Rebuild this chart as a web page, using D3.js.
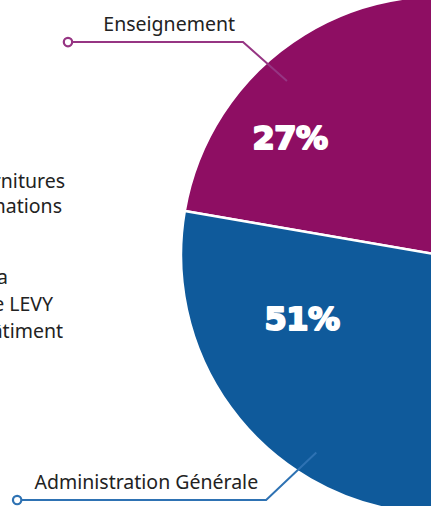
<!DOCTYPE html>
<html><head><meta charset="utf-8">
<script src="https://cdn.jsdelivr.net/npm/d3@7"></script>
<style>html,body{margin:0;padding:0;background:#fff;overflow:hidden}</style>
</head><body>
<svg id="c" width="431" height="506"></svg>
<script>
// Data
const categories = ["Enseignement", "Fournitures et consommations", "Entretien de la salle LEVY et du bâtiment", "Administration Générale"];
const values = [27, 12, 10, 51];
const percentLabels = ["27%", "", "", "51%"];
const colors = ["#8E0E63", "#E3A02A", "#5A9E3C", "#0F5A9B"];
const lineColors = ["#963583", "#c98a1e", "#4b8a30", "#2E72B3"];

// Layout
const W = 431, H = 506;
const cx = 440, cy = 255, R = 259;
const startDeg = -80.2;
const svg = d3.select("#c");

const pie = d3.pie().sort(null).value(d => d)
  .startAngle(startDeg * Math.PI / 180)
  .endAngle(startDeg * Math.PI / 180 + 2 * Math.PI);
const arcs = pie(values);
const arc = d3.arc().innerRadius(0).outerRadius(R);

const g = svg.append("g").attr("transform", `translate(${cx},${cy})`);
g.selectAll("path.slice").data(arcs).join("path")
  .attr("class", "slice")
  .attr("d", arc)
  .attr("fill", (d, i) => colors[i])
  .attr("stroke", "#fff").attr("stroke-width", 2.5).attr("stroke-linejoin", "round");

function polar(d, frac, rf) {
  const a = d.startAngle + (d.endAngle - d.startAngle) * frac;
  return [R * rf * Math.sin(a), -R * rf * Math.cos(a)];
}

// Percent labels: [slice index, angle fraction, radius fraction]
const pctPos = [[0, 0.292, 0.737], [3, 0.813, 0.586]];
pctPos.forEach(([i, f, rf]) => {
  const [x, y] = polar(arcs[i], f, rf);
  g.append("text").attr("x", x).attr("y", y).attr("dy", "0.36em")
    .attr("text-anchor", "middle")
    .attr("font-family", "DejaVu Sans").attr("font-weight", "bold")
    .attr("font-size", 32).attr("fill", "#fff")
    .attr("stroke", "#fff").attr("stroke-width", 2).attr("stroke-linejoin", "round")
    .attr("letter-spacing", "-0.5")
    .text(percentLabels[i]);
});

// Leader lines: [slice index, inner frac, inner rf, elbow frac, elbow rf, horizontal length]
const leaders = [[0, 0.40, 0.895, 0.385, 1.12, 175], [3, 0.631, 0.90, 0.649, 1.16, 249]];
leaders.forEach(([i, f1, r1, f2, r2, len]) => {
  const p1 = polar(arcs[i], f1, r1);
  const p2 = polar(arcs[i], f2, r2);
  const p3 = [p2[0] - len, p2[1]];
  g.append("path")
    .attr("d", d3.line()([p1, p2, p3]))
    .attr("fill", "none").attr("stroke", lineColors[i]).attr("stroke-width", 2);
  g.append("circle").attr("cx", p3[0]).attr("cy", p3[1]).attr("r", 4.2)
    .attr("fill", "#fff").attr("stroke", lineColors[i]).attr("stroke-width", 2.2);
  g.append("text").attr("x", p2[0] - 8).attr("y", p2[1] - 11)
    .attr("text-anchor", "end")
    .attr("font-family", "Noto Sans").attr("font-size", 19.5).attr("fill", "#222")
    .text(categories[i]);
});

// Side labels for other slices (partially cut off at left edge, as in the reference)
const sideLines = [["Fournitures", "et consommations"], ["Entretien de la", "salle Pierre LEVY", "et du bâtiment"]];
const sideEnds = [[65, 62], [8, 53, 63]];
const sideBase = [188, 284];
const sideStep = [24.5, 27];
sideLines.forEach((lines, k) => {
  lines.forEach((t, j) => {
    svg.append("text").attr("x", sideEnds[k][j]).attr("y", sideBase[k] + j * sideStep[k])
      .attr("text-anchor", "end")
      .attr("font-family", "Noto Sans").attr("font-size", 19.5).attr("fill", "#222")
      .text(t);
  });
});
</script>
</body></html>
